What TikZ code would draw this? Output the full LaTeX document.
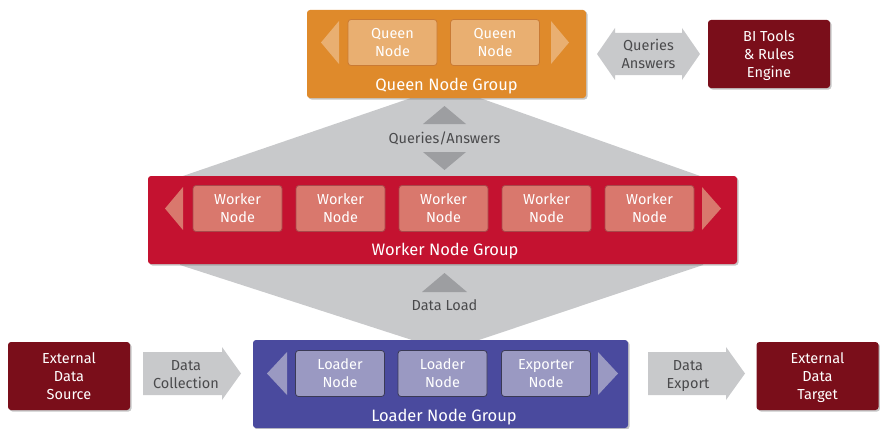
\documentclass[tikz,border=0pt]{standalone}
\usepackage{fontspec}
\setmainfont{Fira Sans}
\usetikzlibrary{shadows}

\definecolor{queenorange}{HTML}{DF8A2B}
\definecolor{queenlight}{HTML}{E9AF71}
\definecolor{queenedge}{HTML}{C97A34}
\definecolor{workerred}{HTML}{C41230}
\definecolor{workerlight}{HTML}{D9786D}
\definecolor{workeredge}{HTML}{A8484A}
\definecolor{loaderblue}{HTML}{4A4A9E}
\definecolor{loaderlight}{HTML}{9A99C2}
\definecolor{loaderedge}{HTML}{3A3A55}
\definecolor{extred}{HTML}{7A0E1A}
\definecolor{flowgrey}{HTML}{C8C9CB}
\definecolor{tipgrey}{HTML}{9D9EA1}
\definecolor{notegrey}{HTML}{4A4A4C}

\newcommand{\memberfont}{\fontsize{14.5}{18}\selectfont}
\newcommand{\groupfont}{\fontsize{16.5}{20}\selectfont}

\tikzset{
	grp/.style={rounded corners=3pt, inner sep=0pt,
		drop shadow={shadow xshift=1.5pt, shadow yshift=-1.5pt, opacity=.45}},
	memb/.style={rounded corners=3pt, line width=0.8pt, text=white, align=center,
		minimum width=89pt, minimum height=46pt, inner sep=0pt, font=\memberfont},
	ext/.style={grp, fill=extred, text=white, align=center,
		minimum width=122pt, minimum height=68pt, font=\memberfont},
	grplabel/.style={text=white, inner sep=0pt, anchor=base, font=\groupfont},
	note/.style={text=notegrey, align=center, inner sep=0pt, font=\memberfont}
}

\begin{document}
\begin{tikzpicture}[x=1pt,y=-1pt]
	\useasboundingbox (0,0) rectangle (880,428);
	% grey flow behind the groups
	\fill[flowgrey] (446,86) -- (180,177) -- (180,265) -- (446,351) -- (703,265) -- (703,177) -- cycle;

	% queen group
	\node[grp, fill=queenorange, minimum width=279pt, minimum height=88pt] (queen) at (446.5,54) {};
	\foreach \x [count=\i] in {392.5,495}{
		\node[memb, fill=queenlight, draw=queenedge] (q\i) at (\x,42.5) {Queen\\Node};
	}
	\fill[queenlight] (321,42.5) -- (339,21) -- (339,64) -- cycle;
	\fill[queenlight] (569,42.5) -- (551,21) -- (551,64) -- cycle;
	\node[grplabel] (queenlbl) at (446.5,90) {Queen Node Group};

	% worker group
	\node[grp, fill=workerred, minimum width=589pt, minimum height=88pt] (worker) at (442.5,220) {};
	\foreach \x [count=\i] in {237.5,340.5,443.5,546.5,649.5}{
		\node[memb, fill=workerlight, draw=workeredge] (w\i) at (\x,208.5) {Worker\\Node};
	}
	\fill[workerlight] (165,208.5) -- (183,187) -- (183,230) -- cycle;
	\fill[workerlight] (721,208.5) -- (702,187) -- (702,230) -- cycle;
	\node[grplabel] (workerlbl) at (445,255.5) {Worker Node Group};

	% loader group
	\node[grp, fill=loaderblue, minimum width=375pt, minimum height=88pt] (loader) at (440.5,384) {};
	\foreach \x/\t [count=\i] in {340/Loader,442.5/Loader,546/Exporter}{
		\node[memb, fill=loaderlight, draw=loaderedge] (l\i) at (\x,373.5) {\t\\Node};
	}
	\fill[loaderlight] (267,373.5) -- (287,352) -- (287,395) -- cycle;
	\fill[loaderlight] (618,373.5) -- (598,352) -- (598,395) -- cycle;
	\node[grplabel] (loaderlbl) at (444,421) {Loader Node Group};

	% outside boxes
	\node[ext, text depth=0pt] (bi) at (769,54) {BI Tools\\\& Rules\\Engine};
	\node[ext] (source) at (69,376) {External\\Data\\Source};
	\node[ext, text depth=0pt] (target) at (817.5,376) {External\\Data\\Target};

	% fat arrows
	\fill[flowgrey] (597,54) -- (615,28) -- (615,33) -- (682,33) -- (682,28) -- (700,54)
		-- (682,80) -- (682,75) -- (615,75) -- (615,80) -- cycle;
	\node[note] (qa) at (648.5,54) {Queries\\Answers};
	\fill[flowgrey] (143,352) -- (222,352) -- (222,347) -- (241,373.5) -- (222,400) -- (222,395) -- (143,395) -- cycle;
	\node[note, yshift=-1pt] (collect) at (186,373.5) {Data\\Collection};
	\fill[flowgrey] (648,352) -- (726,352) -- (726,347) -- (745,373.5) -- (726,400) -- (726,395) -- (648,395) -- cycle;
	\node[note, yshift=-2.5pt] (export) at (688,373.5) {Data\\Export};

	% flow tips and notes
	\fill[tipgrey] (444.5,106) -- (466,124) -- (423,124) -- cycle;
	\fill[tipgrey] (444.5,170) -- (466,152) -- (423,152) -- cycle;
	\node[note] (queries) at (444.5,138) {Queries/Answers};
	\fill[tipgrey] (444.5,273) -- (467,292) -- (422,292) -- cycle;
	\node[note] (load) at (444.5,305) {Data Load};
\end{tikzpicture}
\end{document}
